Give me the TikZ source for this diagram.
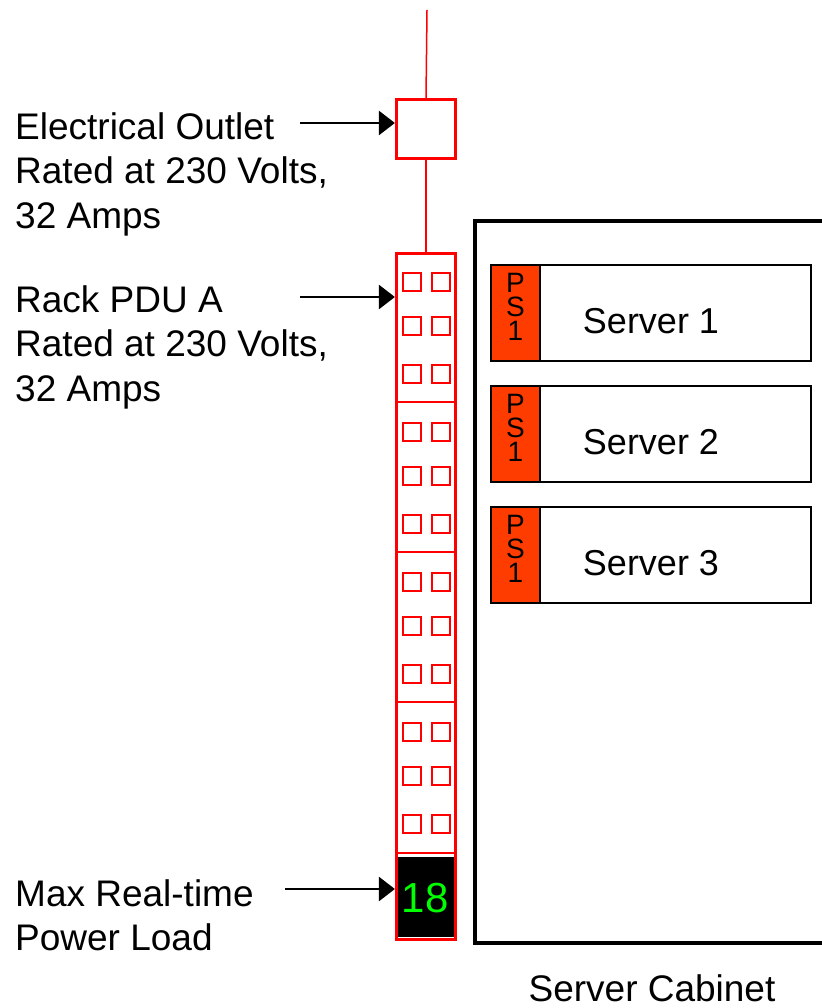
\documentclass[tikz,border=0pt]{standalone}
\usepackage{fontspec}
\setmainfont{Liberation Sans}
\usetikzlibrary{arrows.meta}
\definecolor{psred}{RGB}{255,60,0}
\definecolor{lcdgreen}{RGB}{0,255,0}
\tikzset{
  redline/.style={draw=red, line width=1.5pt},
  redbox/.style={draw=red, line width=3.2pt},
  socket/.style={draw=red, line width=1.2pt, minimum size=18pt, inner sep=0pt},
  callout/.style={-{Triangle[length=16pt,width=24pt]}, line width=2.5pt, black},
  lbl/.style={font=\fontsize{37}{44.5}\selectfont, align=left, inner sep=0pt, anchor=north west},
  srv/.style={draw=black, line width=1.8pt, fill=white},
  psbox/.style={draw=black, line width=1.8pt, fill=psred},
  srvtext/.style={font=\fontsize{36}{43}\selectfont, inner sep=0pt},
  pstext/.style={font=\fontsize{28}{24}\selectfont, align=center, inner sep=0pt},
}
\begin{document}
\begin{tikzpicture}[x=1pt,y=-1pt]
\useasboundingbox (0,0) rectangle (821,1008);
% power line and outlet
\coordinate (top) at (427,10);
\node[redbox, minimum width=59pt, minimum height=59pt, inner sep=0pt] (outlet) at (426,129) {};
\draw[redline] (top) -- (outlet.north);
% PDU
\fill[black] (396,857) rectangle (455,937);
\node[redbox, minimum width=59pt, minimum height=686pt, inner sep=0pt, anchor=north] (pdu) at (426,252) {};
\draw[redline] (outlet.south) -- (pdu.north);
\foreach \y in {402,552,702,853} \draw[red, line width=1.5pt] (396,\y) -- (455,\y);
\foreach \s in {0,150,300,450}{
  \foreach \r in {30,74,122}{
    \node[socket] at (412,252+\s+\r) {};
    \node[socket] at (441,252+\s+\r) {};
  }
}
\node[text=lcdgreen, font=\fontsize{42}{48}\selectfont, inner sep=0pt] (disp) at (425,898) {18};
% labels
\node[lbl] (l1) at (15,112) {Electrical Outlet\\Rated at 230 Volts,\\32 Amps};
\node[lbl] (l2) at (15,285) {Rack PDU A\\Rated at 230 Volts,\\32 Amps};
\node[lbl] (l3) at (15,879) {Max Real-time\\Power Load};
\coordinate (a1) at (300,123);
\coordinate (a2) at (300,297);
\coordinate (a3) at (285,889);
\draw[callout] (a1) -- (a1 -| outlet.west);
\draw[callout] (a2) -- (a2 -| pdu.west);
\draw[callout] (a3) -- (a3 -| pdu.west);
% cabinet
\draw[black, line width=4pt] (830,221) -- (475,221) -- (475,943) -- (830,943);
\node[font=\fontsize{37}{44}\selectfont, inner sep=0pt] (cab) at (652,988) {Server Cabinet};
% servers
\foreach \n/\y in {1/265,2/386,3/507}{
  \draw[srv] (491,\y) rectangle (811,\y+96);
  \draw[psbox] (491,\y) rectangle (540,\y+96);
  \node[pstext] (ps\n) at (515.5,\y+42) {P\\S\\1};
  \node[srvtext] (srv\n) at (651,\y+56) {Server \n};
}
\end{tikzpicture}
\end{document}
